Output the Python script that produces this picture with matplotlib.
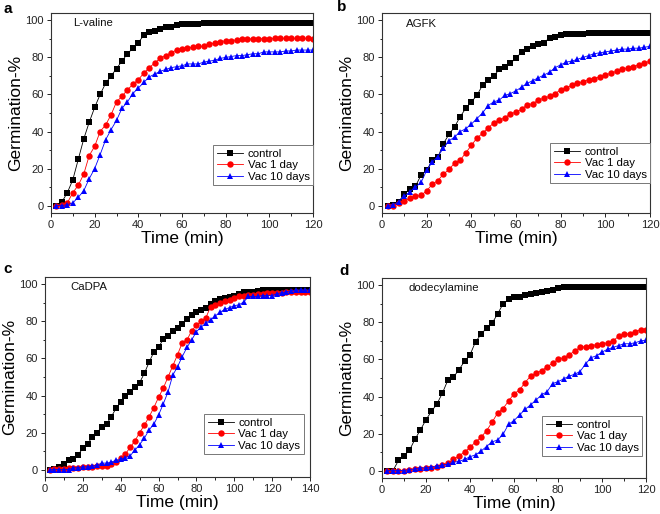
import numpy as np
import matplotlib
matplotlib.use("Agg")
import matplotlib.pyplot as plt
from matplotlib.ticker import MultipleLocator

plt.rcParams['font.family'] = ['Liberation Sans', 'DejaVu Sans']

# ---------------- data ----------------
time_120 = np.arange(1, 49) * 2.5          # 2.5 ... 120 min
time_140 = np.arange(1, 57) * 2.5          # 2.5 ... 140 min

series_labels = ["control", "Vac 1 day", "Vac 10 days"]
panel_letters = ["a", "b", "c", "d"]
panel_titles = ["L-valine", "AGFK", "CaDPA", "dodecylamine"]

a_control = [0, 2, 7, 14, 25, 36, 45, 53, 60, 66, 70, 74, 78, 82, 85, 88, 92, 94, 94.5, 95.5,
             96.5, 96.5, 97.5, 98, 98, 98.3, 98.3, 98.5, 98.5, 98.7, 98.7, 98.7, 98.7, 98.7, 98.7,
             98.7, 98.7, 98.7, 98.7, 98.7, 98.7, 98.7, 98.7, 98.7, 98.7, 98.7, 98.7, 98.7]
a_vac1 = [0, 0.5, 1.5, 7, 11, 17, 27, 32, 40, 43.5, 49, 56, 59, 62.5, 65.5, 68, 71.5, 74.5, 77, 79.5,
          81, 82.5, 84, 84.5, 85, 85.5, 86, 86, 87, 88, 88.5, 89, 89, 89.5, 90, 90, 90, 90, 90.2, 90.2,
          90.3, 90.3, 90.3, 90.3, 90.3, 90.3, 90.3, 90]
a_vac10 = [0, 0, 0.5, 1.5, 4.5, 8, 14.5, 20, 27.5, 35.5, 41, 46, 52.5, 56, 60.5, 63.5, 66.5, 69.5, 71,
           72.5, 73.5, 74.5, 75, 75.5, 76.5, 76.5, 76.5, 77.5, 78, 78.5, 79.5, 80, 80.5, 81, 81, 81.5,
           82, 82, 83, 83, 83, 83, 83.5, 83.5, 84, 84, 84, 84]

b_control = [0, 0.5, 2, 6.5, 9, 10.5, 16.5, 19, 24.5, 26, 33.5, 38.5, 42.5, 48, 52.5, 56, 59.5, 65,
             68, 70, 73.5, 75, 77, 79.5, 83, 84.5, 86, 87, 88, 90.5, 91, 92, 92.5, 92.5, 92.5, 92.5,
             93, 93, 93, 93, 93, 93, 93, 93, 93, 93, 93, 93]
b_vac1 = [0, 0, 1.5, 2.5, 4, 5, 5.5, 8, 11.5, 13.5, 17, 19.5, 23, 24.5, 28.5, 32.5, 36.5, 39, 42,
          44.5, 46, 47.5, 49.5, 50.5, 52, 54.5, 55, 57, 58, 59, 60.5, 62.5, 63.5, 65, 66, 67, 68,
          68.5, 69.5, 70.5, 71.5, 72.5, 73.5, 74.5, 75, 76, 77, 78]
b_vac10 = [0, 0.5, 2, 5, 7.5, 10, 12.5, 19, 23.5, 26.5, 31, 35, 37, 40, 41.5, 44, 47, 50, 54, 56,
           57, 59.5, 60.5, 62, 64, 66, 67.5, 69, 70.5, 72, 74.5, 76, 77.5, 78, 79, 80, 81, 82, 82.5,
           83, 83.5, 84, 84.5, 84.5, 85, 85, 85.5, 86]

c_control = [0, 0.5, 1.5, 3, 5, 5.5, 8, 11.5, 14, 17.5, 20, 23, 24.5, 28.5, 33, 36.5, 39.5, 42,
             44.5, 47, 52, 58, 63.5, 66, 70.5, 72, 75, 76.5, 78.5, 81.5, 83.5, 85, 86, 87.5, 89.5,
             91, 92, 92.5, 93, 94, 95, 96, 96, 96, 96.5, 97, 97, 96.8, 96.8, 97, 97, 97, 97, 97, 97, 97]
c_vac1 = [0, 0.5, 0.5, 0.5, 1, 1, 1, 1.5, 1.5, 1.5, 2, 2, 2, 3, 4, 6, 8.5, 12, 15.5, 20, 24, 28.5,
          33.5, 39, 44, 50, 56, 62, 68.5, 70, 75, 78, 80, 82, 88, 89, 90, 91, 91.5, 92.5, 93.5, 94,
          94.5, 94.5, 95, 95, 95.5, 95.5, 95.5, 95.5, 96, 96, 96, 96, 96, 96]
c_vac10 = [0, 0, 0, 0, 0, 1, 1, 1.5, 1.5, 2, 2.5, 3.5, 3.5, 4, 5, 5.5, 6.5, 7.5, 10.5, 13.5, 17,
           21.5, 24.5, 29.5, 35.5, 42, 51, 55.5, 61, 66, 70, 74.5, 77, 79, 81, 83, 85, 86.5, 87.5,
           88.5, 89, 90.5, 93.5, 93.5, 93.5, 94, 94, 94, 95, 95.5, 96, 96.5, 97, 97, 97, 97]

d_control = [0, 0, 5.5, 8, 11, 17, 22, 27.5, 32, 36, 42, 49, 50.5, 54.5, 59, 62.5, 69.5, 73.5, 77,
             79.5, 84.5, 90, 92.5, 93.5, 94, 95, 95.5, 96, 96.5, 97, 97.5, 98.5, 99, 99, 99, 99, 99,
             99, 99, 99, 99, 99, 99, 99, 99, 99, 99, 99]
d_vac1 = [0, 0, 0, 0, 0.5, 1, 1, 1.5, 1.5, 2, 3, 4, 6, 8, 10, 12.5, 15.5, 18, 21.5, 26, 31, 33.5,
          37.5, 41.5, 43.5, 47.5, 51, 52.5, 54, 56, 58, 60, 61, 62.5, 64.5, 66.5, 67, 67.5, 68, 68.5,
          69, 70, 72.5, 73.5, 74, 75, 76, 76]
d_vac10 = [0, 0, 0, 0, 0.5, 1, 1.5, 1.5, 2, 2.5, 3, 3.5, 4.5, 5, 6, 7.5, 8.5, 10.5, 13, 15.5, 16.5,
           19.5, 25, 27, 30, 33, 35.5, 38, 41, 42.5, 47, 48, 49.5, 51, 52, 53.5, 57.5, 61, 62, 64,
           65.5, 66.5, 67.5, 68.5, 68.5, 69, 70, 70.5]

panels = [
    (time_120, [a_control, a_vac1, a_vac10], 120),
    (time_120, [b_control, b_vac1, b_vac10], 120),
    (time_140, [c_control, c_vac1, c_vac10], 140),
    (time_120, [d_control, d_vac1, d_vac10], 120),
]

# ---------------- layout ----------------
W, H = 660, 514
boxes = [  # left, top, right, bottom in pixels
    (51, 13, 313, 213),
    (382, 13, 650, 213),
    (45, 277, 310, 477),
    (382, 278, 646, 478),
]
legend_anchor = [(1.0, 0.14), (1.0, 0.15), (0.977, 0.115), (0.985, 0.11)]
title_pos = [(0.084, 0.975), (0.09, 0.97), (0.094, 0.975), (0.10, 0.975)]
letter_pos = [(3, 2), (337, 0), (3, 262), (339, 264)]

colors = ["black", "#ff0000", "#0000ff"]
markers = ["s", "o", "^"]
msizes = [4.0, 4.6, 4.8]

fig = plt.figure(figsize=(W / 100, H / 100), dpi=100)

for i, (box, (tt, series, xmax)) in enumerate(zip(boxes, panels)):
    l, t, r, b = box
    ax = fig.add_axes([l / W, 1 - b / H, (r - l) / W, (b - t) / H])
    for vals, lab, c, m, ms in zip(series, series_labels, colors, markers, msizes):
        ax.plot(tt, vals, color=c, marker=m, markersize=ms, linewidth=0.6,
                markeredgewidth=0, label=lab, clip_on=True)
    ax.set_xlim(0, xmax)
    ax.set_ylim(-4, 104)
    ax.xaxis.set_major_locator(MultipleLocator(20))
    ax.xaxis.set_minor_locator(MultipleLocator(10))
    ax.yaxis.set_major_locator(MultipleLocator(20))
    ax.yaxis.set_minor_locator(MultipleLocator(10))
    ax.tick_params(which='major', direction='out', length=3, width=0.7, labelsize=8,
                   colors='#222222', pad=2)
    ax.tick_params(which='minor', direction='out', length=1.8, width=0.6)
    for sp in ax.spines.values():
        sp.set_linewidth(0.8)
        sp.set_color('#333333')
    ax.set_xlabel("Time (min)", fontsize=12.5, labelpad=1)
    ax.set_ylabel("Germination-%", fontsize=12.5, labelpad=2)
    ax.text(title_pos[i][0], title_pos[i][1], panel_titles[i], transform=ax.transAxes,
            fontsize=8.2, ha='left', va='top', color='#111111')
    leg = ax.legend(loc='lower right', bbox_to_anchor=legend_anchor[i], fontsize=8.2,
                    frameon=True, fancybox=False, edgecolor='#777777', framealpha=1,
                    borderpad=0.3, labelspacing=0.12, handlelength=2.3, handletextpad=0.4,
                    borderaxespad=0, numpoints=1)
    leg.get_frame().set_linewidth(0.7)
    lx, ly = letter_pos[i]
    fig.text(lx / W, 1 - ly / H, panel_letters[i], fontsize=11, fontweight='bold',
             ha='left', va='top')

fig.savefig("out.png", dpi=100)
